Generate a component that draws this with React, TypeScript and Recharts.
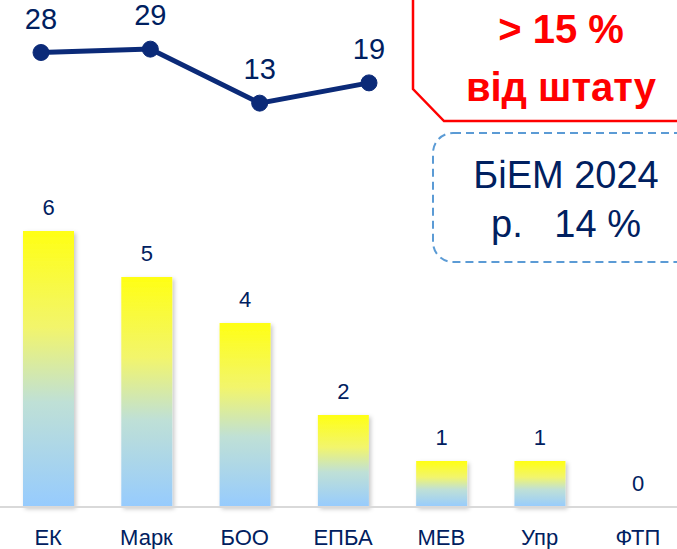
import { Bar, BarChart, LabelList, Line, LineChart, Rectangle, XAxis, YAxis } from "recharts";

const categories = ["ЕК", "Марк", "БОО", "ЕПБА", "МЕВ", "Упр", "ФТП"];
const barValues = [6, 5, 4, 2, 1, 1, 0];
const lineCategories = ["ЕК", "Марк", "БОО", "ЕПБА"];
const lineValues = [28, 29, 13, 19];

const barData = categories.map((name, i) => ({ name, value: barValues[i] }));
const lineData = lineCategories.map((name, i) => ({ name, value: lineValues[i] }));

const NAVY = "#002060";
const LINE = "#0b2a78";
const FONT = "'Liberation Sans', Arial, sans-serif";

export default function App() {
  return (
    <div
      style={{
        position: "fixed",
        left: 0,
        top: 0,
        width: 677,
        height: 549,
        overflow: "hidden",
        background: "#fff",
        fontFamily: FONT,
      }}
    >
      <div style={{ position: "absolute", left: -1, top: 0 }}>
        <BarChart width={688} height={549} data={barData} margin={{ top: 139, right: 0, bottom: 0, left: 0 }}>
          <defs>
            <linearGradient id="barFill" x1="0" y1="0" x2="0" y2="1">
              <stop offset="0%" stopColor="#ffff14" />
              <stop offset="35%" stopColor="#f2f56c" />
              <stop offset="62%" stopColor="#bfe0d6" />
              <stop offset="100%" stopColor="#96cbfe" />
            </linearGradient>
            <filter id="barShadow" x="-20%" y="-10%" width="150%" height="130%">
              <feDropShadow dx="2" dy="2" stdDeviation="2" floodColor="#000" floodOpacity="0.22" />
            </filter>
          </defs>
          <XAxis
            dataKey="name"
            height={42}
            tickSize={0}
            tickMargin={22}
            axisLine={{ stroke: "#d9d9d9", strokeWidth: 2 }}
            tickLine={false}
            tick={{ fill: NAVY, fontSize: 22, fontFamily: FONT }}
            interval={0}
          />
          <YAxis hide domain={[0, 8]} />
          <Bar
            dataKey="value"
            fill="url(#barFill)"
            barSize={51}
            isAnimationActive={false}
            shape={(props: any) => <Rectangle {...props} filter="url(#barShadow)" />}
          >
            <LabelList dataKey="value" position="top" offset={16} fill={NAVY} fontSize={22} fontFamily={FONT} />
          </Bar>
        </BarChart>
      </div>

      <div style={{ position: "absolute", left: 0, top: 0 }}>
        <LineChart width={410} height={200} data={lineData} margin={{ top: 12, right: 41, bottom: 53, left: 41 }}>
          <XAxis dataKey="name" hide />
          <YAxis hide domain={[0, 40]} />
          <Line
            dataKey="value"
            stroke={LINE}
            strokeWidth={5}
            dot={{ r: 8, fill: LINE, stroke: LINE, strokeWidth: 1 }}
            isAnimationActive={false}
          >
            <LabelList dataKey="value" position="top" offset={24} fill={NAVY} fontSize={29} fontFamily={FONT} />
          </Line>
        </LineChart>
      </div>

      <svg width={677} height={549} style={{ position: "absolute", left: 0, top: 0, pointerEvents: "none" }}>
        <polyline points="413,-3 413,89 444,121 680,121" fill="none" stroke="#ff0000" strokeWidth={2.5} />
        <text x={561} y={43} textAnchor="middle" fill="#ff0000" fontSize={40} fontWeight="bold" fontFamily={FONT}>
          &gt; 15 %
        </text>
        <text x={561} y={101} textAnchor="middle" fill="#ff0000" fontSize={40} fontWeight="bold" fontFamily={FONT}>
          від штату
        </text>
        <rect
          x={433}
          y={133}
          width={280}
          height={129}
          rx={20}
          fill="none"
          stroke="#5b9bd5"
          strokeWidth={2}
          strokeDasharray="8 5"
        />
        <text x={566} y={188} textAnchor="middle" fill={NAVY} fontSize={38} fontFamily={FONT}>
          БіЕМ 2024
        </text>
        <text x={566} y={237} textAnchor="middle" fill={NAVY} fontSize={38} fontFamily={FONT} style={{ whiteSpace: "pre" }}>
          {"р.   14 %"}
        </text>
      </svg>
    </div>
  );
}
